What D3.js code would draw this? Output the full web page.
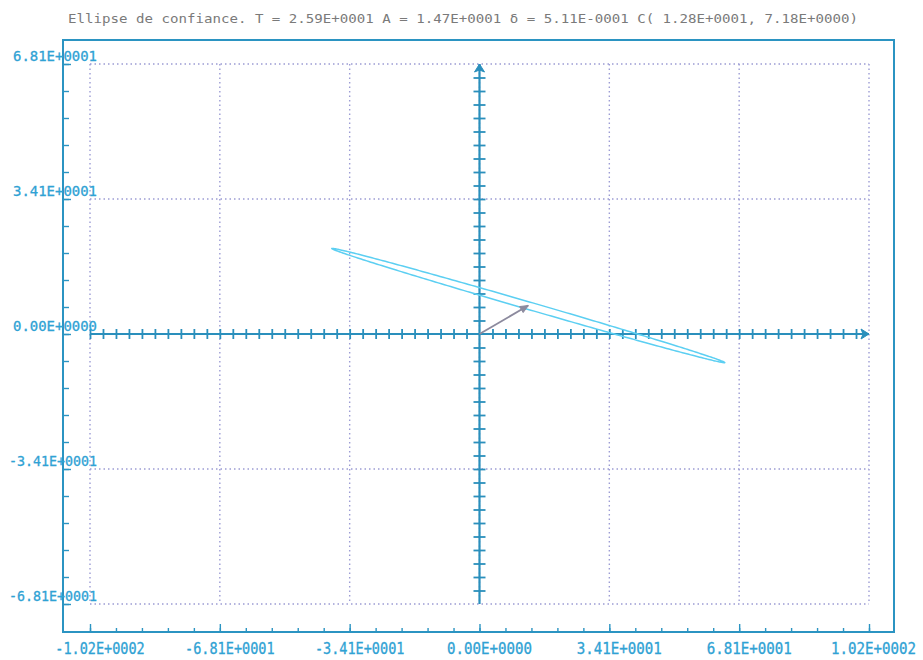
<!DOCTYPE html>
<html>
<head>
<meta charset="utf-8">
<script src="https://cdn.jsdelivr.net/npm/d3@7"></script>
<style>
  html, body { margin: 0; padding: 0; background: #ffffff; }
  svg { display: block; }
  text { font-family: "DejaVu Sans Mono", "Liberation Mono", monospace; }
</style>
</head>
<body>
<svg id="chart" width="923" height="660"></svg>
<script>
// Confidence ellipse plot: axis ticks, labels and ellipse parameters
const titleText = "Ellipse de confiance. T = 2.59E+0001 A = 1.47E+0001 \u03b4 = 5.11E-0001 C( 1.28E+0001, 7.18E+0000)";

const xMajor = [-102.15, -68.1, -34.05, 0, 34.05, 68.1, 102.15];
const xLabels = ["-1.02E+0002", "-6.81E+0001", "-3.41E+0001", "0.00E+0000", "3.41E+0001", "6.81E+0001", "1.02E+0002"];
const yMajor = [68.1, 34.05, 0, -34.05, -68.1];
const yLabels = ["6.81E+0001", "3.41E+0001", "0.00E+0000", "-3.41E+0001", "-6.81E+0001"];
const frameStep = 6.81;   // tick step on the outer frame
const axisStep = 3.405;   // tick step on the axes through the origin

const ellipseCenter = [12.8, 7.18];
const ellipseSemiAxes = [53.5, 0.95];
const ellipseAngleDeg = -15.6;

const svg = d3.select("#chart");

const x = d3.scaleLinear().domain([-102.15, 102.15]).range([90, 869]);
const y = d3.scaleLinear().domain([-68.1, 68.1]).range([604, 64]);

const frame = { left: 63, top: 40, right: 894, bottom: 632 };

const cFrame = "#2b94c2";
const cLabel = "#2fa2d4";
const cGrid = "#9c9cd4";
const cEllipse = "#5ccff2";
const cArrow = "#8c8a9e";
const axisColor = "#2a8fbc";

const xFrameTicks = d3.range(-15, 16).map(i => i * frameStep);
const yFrameTicks = d3.range(-10, 11).map(i => i * frameStep);
const xAxisTicks = d3.range(-30, 30).map(i => i * axisStep).filter(v => v !== 0);
const yAxisTicks = d3.range(-19, 20).map(i => i * axisStep).filter(v => v !== 0);

// dotted grid
const grid = svg.append("g");
xMajor.forEach(v => {
  grid.append("line")
    .attr("x1", x(v)).attr("x2", x(v))
    .attr("y1", y(68.1)).attr("y2", y(-68.1))
    .attr("stroke", cGrid).attr("stroke-width", 1.4)
    .attr("stroke-dasharray", "1.5,3");
});
yMajor.forEach(v => {
  grid.append("line")
    .attr("x1", x(-102.15)).attr("x2", x(102.15))
    .attr("y1", y(v)).attr("y2", y(v))
    .attr("stroke", cGrid).attr("stroke-width", 1.4)
    .attr("stroke-dasharray", "1.5,3");
});

// outer frame
svg.append("rect")
  .attr("x", frame.left).attr("y", frame.top)
  .attr("width", frame.right - frame.left).attr("height", frame.bottom - frame.top)
  .attr("fill", "none").attr("stroke", cFrame).attr("stroke-width", 2);

function styleAxis(g) {
  g.select(".domain").remove();
  g.selectAll(".tick line").attr("stroke", cFrame).attr("stroke-width", 1.4);
  g.selectAll(".tick text").remove();
}

// bottom frame ticks (pointing inward)
svg.append("g").attr("transform", `translate(0,${frame.bottom})`)
  .call(d3.axisBottom(x).tickValues(xFrameTicks).tickSize(-4).tickFormat(""))
  .call(styleAxis);
svg.append("g").attr("transform", `translate(0,${frame.bottom})`)
  .call(d3.axisBottom(x).tickValues(xMajor).tickSize(-8).tickFormat(""))
  .call(styleAxis);

// left frame ticks (pointing inward)
svg.append("g").attr("transform", `translate(${frame.left},0)`)
  .call(d3.axisLeft(y).tickValues(yFrameTicks).tickSize(-6).tickFormat(""))
  .call(styleAxis);
svg.append("g").attr("transform", `translate(${frame.left},0)`)
  .call(d3.axisLeft(y).tickValues(yMajor).tickSize(-8).tickFormat(""))
  .call(styleAxis);

// central axes through the origin
svg.append("line")
  .attr("x1", x(-102.15)).attr("x2", x(102.15))
  .attr("y1", y(0)).attr("y2", y(0))
  .attr("stroke", axisColor).attr("stroke-width", 2.2);
svg.append("line")
  .attr("x1", x(0)).attr("x2", x(0))
  .attr("y1", y(-68.1)).attr("y2", y(68.1))
  .attr("stroke", axisColor).attr("stroke-width", 2.2);

// crossing ticks on the horizontal axis
svg.append("g").attr("transform", `translate(0,${y(0) - 5})`)
  .call(d3.axisBottom(x).tickValues(xAxisTicks).tickSize(10).tickFormat(""))
  .call(g => { styleAxis(g); g.selectAll(".tick line").attr("stroke", axisColor).attr("stroke-width", 1.8); });
// crossing ticks on the vertical axis
svg.append("g").attr("transform", `translate(${x(0) - 6},0)`)
  .call(d3.axisRight(y).tickValues(yAxisTicks).tickSize(12).tickFormat(""))
  .call(g => { styleAxis(g); g.selectAll(".tick line").attr("stroke", axisColor).attr("stroke-width", 1.8); });

// arrowheads at the ends of the central axes
const hx = x(102.15), hy = y(0);
svg.append("path")
  .attr("d", `M${hx},${hy} L${hx - 8},${hy - 5} L${hx - 6},${hy} L${hx - 8},${hy + 5} Z`)
  .attr("fill", axisColor).attr("stroke", axisColor).attr("stroke-width", 1);
const vx = x(0), vy = y(68.1);
svg.append("path")
  .attr("d", `M${vx},${vy} L${vx - 5},${vy + 8} L${vx},${vy + 6} L${vx + 5},${vy + 8} Z`)
  .attr("fill", axisColor).attr("stroke", axisColor).attr("stroke-width", 1);

// confidence ellipse
const phi = ellipseAngleDeg * Math.PI / 180;
const ellipsePts = d3.range(0, 360).map(i => {
  const t = i * Math.PI / 180;
  const u = ellipseSemiAxes[0] * Math.cos(t);
  const w = ellipseSemiAxes[1] * Math.sin(t);
  return [ellipseCenter[0] + u * Math.cos(phi) - w * Math.sin(phi),
          ellipseCenter[1] + u * Math.sin(phi) + w * Math.cos(phi)];
});
svg.append("path")
  .datum(ellipsePts)
  .attr("d", d3.line().x(d => x(d[0])).y(d => y(d[1])).curve(d3.curveLinearClosed))
  .attr("fill", "none").attr("stroke", cEllipse).attr("stroke-width", 1.5);

// vector from the origin to the ellipse centre
const ax0 = x(0), ay0 = y(0), ax1 = x(ellipseCenter[0]), ay1 = y(ellipseCenter[1]);
svg.append("line")
  .attr("x1", ax0).attr("y1", ay0).attr("x2", ax1).attr("y2", ay1)
  .attr("stroke", cArrow).attr("stroke-width", 1.8);
const ang = Math.atan2(ay1 - ay0, ax1 - ax0);
const ah = 8, aw = 3.5;
const p1 = [ax1 - ah * Math.cos(ang) + aw * Math.sin(ang), ay1 - ah * Math.sin(ang) - aw * Math.cos(ang)];
const p2 = [ax1 - ah * Math.cos(ang) - aw * Math.sin(ang), ay1 - ah * Math.sin(ang) + aw * Math.cos(ang)];
svg.append("path")
  .attr("d", `M${ax1},${ay1} L${p1[0]},${p1[1]} L${p2[0]},${p2[1]} Z`)
  .attr("fill", cArrow).attr("stroke", cArrow).attr("stroke-width", 1);

// tick labels
const charW = 8.5;
const labelLen = s => s.length * charW - (s[0] === "-" ? 4 : 0);
svg.append("g").selectAll("text").data(xMajor).join("text")
  .attr("x", (d, i) => Math.min(x(d) + 10, 916 - labelLen(xLabels[i]) / 2))
  .attr("y", frame.bottom + 22)
  .attr("text-anchor", "middle")
  .attr("textLength", (d, i) => labelLen(xLabels[i]))
  .attr("lengthAdjust", "spacingAndGlyphs")
  .attr("font-size", 15)
  .attr("fill", cLabel)
  .attr("stroke", cLabel).attr("stroke-width", 0.3)
  .text((d, i) => xLabels[i]);

svg.append("g").selectAll("text").data(yMajor).join("text")
  .attr("x", 97)
  .attr("y", d => y(d) - 3)
  .attr("text-anchor", "end")
  .attr("textLength", (d, i) => yLabels[i][0] === "-" ? 88 : 84)
  .attr("lengthAdjust", "spacingAndGlyphs")
  .attr("font-size", 14)
  .attr("fill", cLabel)
  .attr("stroke", cLabel).attr("stroke-width", 0.3)
  .text((d, i) => yLabels[i]);

// title
svg.append("text")
  .attr("x", 68).attr("y", 23)
  .attr("textLength", 790)
  .attr("lengthAdjust", "spacingAndGlyphs")
  .attr("font-size", 12.5)
  .attr("fill", "#7a7a7a")
  .text(titleText);
</script>
</body>
</html>
